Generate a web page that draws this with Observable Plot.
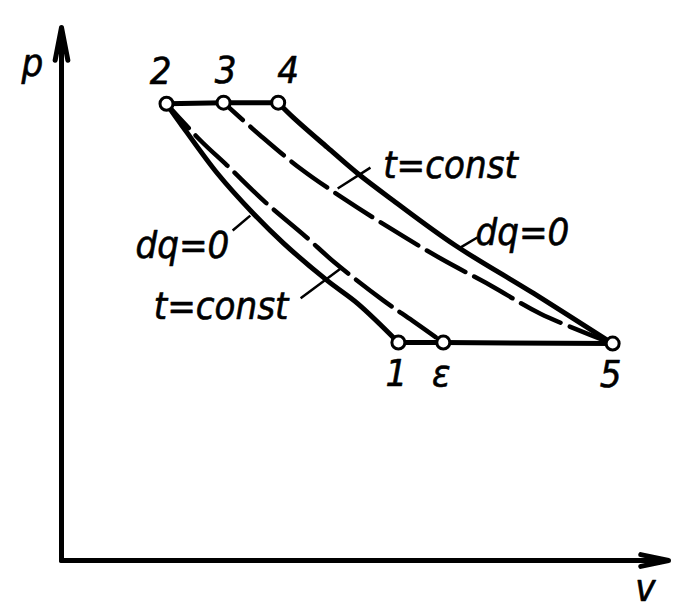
<!DOCTYPE html>
<html>
<head>
<meta charset="utf-8">
<script src="https://cdn.jsdelivr.net/npm/d3@7"></script>
<script src="https://cdn.jsdelivr.net/npm/@observablehq/plot@0.6"></script>
<style>
  html, body { margin: 0; padding: 0; background: #fff; }
  #chart svg { display: block; }
</style>
</head>
<body>
<div id="chart"></div>
<script>
// ---- data (v, p in arbitrary units, axes 0..100) ----
const axisMax = 100;

const pointNames = ["2", "3", "4", "1", "ε", "5"];
const pointV = [17.3, 26.7, 35.7, 55.5, 62.9, 90.8];
const pointP = [85.7, 85.9, 85.9, 40.9, 40.9, 40.7];

// adiabat 2 -> 1 (solid)
const adiabat21V = [17.3, 19.6, 25.7, 31.6, 36.6, 43.8, 48.8, 55.5];
const adiabat21P = [85.7, 82.0, 72.6, 65.1, 59.5, 52.5, 48.2, 40.9];
// isotherm 2 -> ε (dashed)
const isotherm2eV = [17.3, 22.9, 27.3, 33.6, 40.2, 45.0, 53.0, 57.8, 62.9];
const isotherm2eP = [85.7, 78.8, 74.1, 67.2, 60.8, 55.9, 48.8, 45.0, 40.9];
// adiabat 4 -> 5 (solid)
const adiabat45V = [35.7, 38.2, 43.8, 48.8, 54.7, 64.9, 77.8, 90.8];
const adiabat45P = [85.9, 83.1, 77.5, 72.6, 67.5, 59.1, 50.1, 40.7];
// isotherm 3 -> 5 (dashed)
const isotherm35V = [26.7, 32.8, 39.4, 46.5, 54.2, 62.4, 70.7, 78.9, 90.8];
const isotherm35P = [85.9, 79.7, 73.5, 67.9, 62.3, 56.7, 51.6, 46.3, 40.7];

// curve labels
const curveLabels = ["t=const", "dq=0", "dq=0", "t=const"];
const curveLabelV = [53.0, 68.2, 12.2, 15.2];
const curveLabelP = [74.1, 61.5, 59.1, 47.5];
// leader lines (from label to curve)
const leaderV1 = [50.9, 68.5, 28.2, 39.4];
const leaderP1 = [73.7, 60.6, 61.9, 49.2];
const leaderV2 = [45.5, 65.7, 31.1, 46.0];
const leaderP2 = [69.8, 58.7, 64.7, 54.8];

// axis titles
const axisTitles = ["p", "v"];
const axisTitleV = [-4.8, 96.2];
const axisTitleP = [93.2, -5.3];

// ---- build tables ----
const zip = (vs, ps) => vs.map((v, i) => ({v, p: ps[i]}));
const points = pointNames.map((name, i) => ({name, v: pointV[i], p: pointP[i]}));
const topPoints = points.slice(0, 3);
const bottomPoints = points.slice(3);
const labels = curveLabels.map((t, i) => ({t, v: curveLabelV[i], p: curveLabelP[i]}));
const leaders = curveLabels.map((t, i) => ({v1: leaderV1[i], p1: leaderP1[i], v2: leaderV2[i], p2: leaderP2[i]}));
const titles = axisTitles.map((t, i) => ({t, v: axisTitleV[i], p: axisTitleP[i]}));

const font = "'DejaVu Sans Condensed', 'DejaVu Sans', sans-serif";
const txt = {fontSize: 38, fontStyle: "italic", fontFamily: font, fill: "black", stroke: "black", strokeWidth: 0.6};
const dashed = {curve: "catmull-rom", stroke: "black", strokeWidth: 4.5, strokeDasharray: "44,10"};
const solid = {curve: "catmull-rom", stroke: "black", strokeWidth: 5, strokeLinejoin: "round"};

const chart = Plot.plot({
  width: 685,
  height: 616,
  marginLeft: 61,
  marginRight: 17,
  marginTop: 27,
  marginBottom: 56,
  x: {domain: [0, axisMax], axis: null},
  y: {domain: [0, axisMax], axis: null},
  style: {background: "#fff", overflow: "visible"},
  marks: [
    // axes with arrowheads
    Plot.arrow([{x1: 0, y1: 0, x2: 0, y2: axisMax}], {x1: "x1", y1: "y1", x2: "x2", y2: "y2", stroke: "black", strokeWidth: 5, headLength: 10, headAngle: 22}),
    Plot.arrow([{x1: 0, y1: 0, x2: axisMax, y2: 0}], {x1: "x1", y1: "y1", x2: "x2", y2: "y2", stroke: "black", strokeWidth: 5, headLength: 8.5, headAngle: 24}),
    // isobars
    Plot.line(topPoints, {x: "v", y: "p", stroke: "black", strokeWidth: 5}),
    Plot.line(bottomPoints, {x: "v", y: "p", stroke: "black", strokeWidth: 5}),
    // curves
    Plot.line(zip(isotherm2eV, isotherm2eP), {x: "v", y: "p", ...dashed, strokeDashoffset: 11}),
    Plot.line(zip(isotherm35V, isotherm35P), {x: "v", y: "p", ...dashed, strokeDashoffset: 18}),
    Plot.line(zip(adiabat21V, adiabat21P), {x: "v", y: "p", ...solid}),
    Plot.line(zip(adiabat45V, adiabat45P), {x: "v", y: "p", ...solid}),
    // leaders
    Plot.link(leaders, {x1: "v1", y1: "p1", x2: "v2", y2: "p2", stroke: "black", strokeWidth: 2.5}),
    // state points
    Plot.dot(points, {x: "v", y: "p", r: 6.5, fill: "white", stroke: "black", strokeWidth: 3}),
    // point labels
    Plot.text(topPoints.slice(0, 1), {x: "v", y: "p", text: "name", dy: -32, dx: 5, textAnchor: "end", ...txt}),
    Plot.text(topPoints.slice(1, 2), {x: "v", y: "p", text: "name", dy: -32, dx: 2, ...txt}),
    Plot.text(topPoints.slice(2, 3), {x: "v", y: "p", text: "name", dy: -32, dx: -1, textAnchor: "start", ...txt}),
    Plot.text(bottomPoints, {x: "v", y: "p", text: "name", dy: 31, dx: -2, ...txt}),
    // curve labels
    Plot.text(labels, {x: "v", y: "p", text: "t", textAnchor: "start", ...txt}),
    // axis titles
    Plot.text(titles, {x: "v", y: "p", text: "t", ...txt, fontSize: 38})
  ]
});
document.getElementById("chart").appendChild(chart);
</script>
</body>
</html>
